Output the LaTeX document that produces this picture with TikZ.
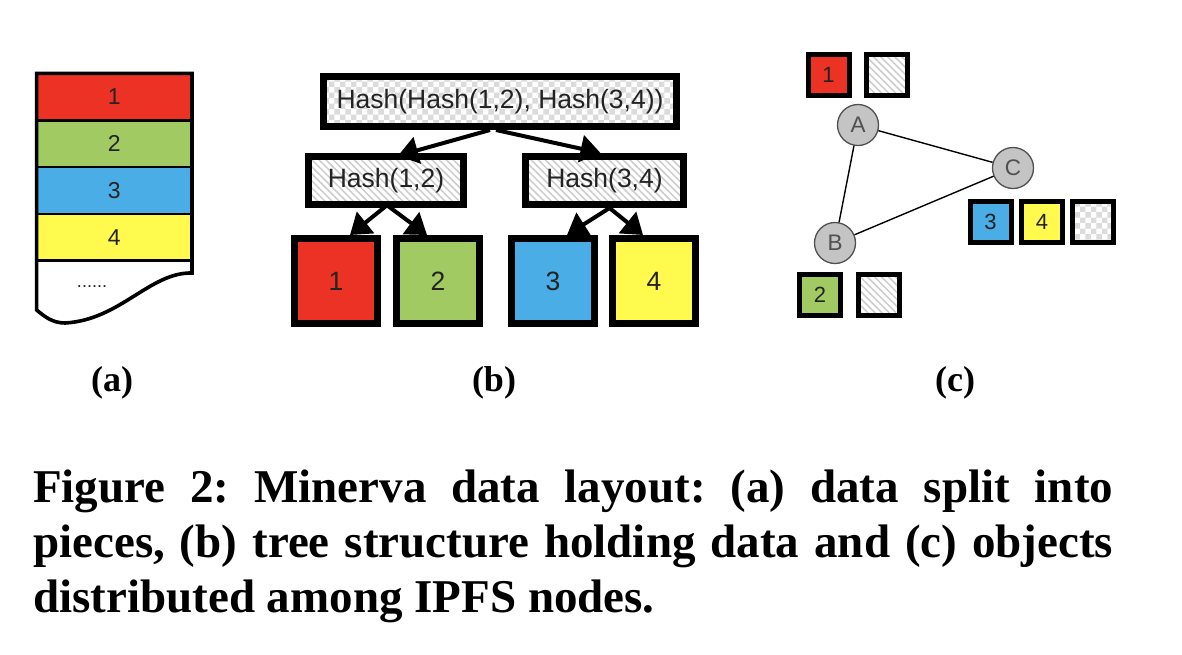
\documentclass[tikz,border=0pt]{standalone}
\usepackage{fontspec}
\setmainfont{Liberation Serif}
\newfontfamily\diagfont{Liberation Sans}
\usetikzlibrary{arrows.meta,patterns,patterns.meta}
\definecolor{cred}{RGB}{236,50,36}
\definecolor{cgreen}{RGB}{161,203,98}
\definecolor{cblue}{RGB}{74,173,230}
\definecolor{cyellow}{RGB}{255,250,77}
\definecolor{cgray}{RGB}{196,196,196}
\definecolor{cdark}{RGB}{80,80,80}
\definecolor{ctext}{RGB}{35,35,35}
\frenchspacing
\begin{document}
\begin{tikzpicture}[x=1pt,y=-1pt,
  strip/.style={draw=black,line width=2.4pt,inner sep=0pt,minimum width=155.4pt,
    text=ctext,font=\diagfont\fontsize{23}{26}\selectfont},
  bbox/.style={draw=black,line width=7pt,inner sep=0pt,text=ctext,
    font=\diagfont\fontsize{26.5}{30}\selectfont},
  sq/.style={bbox,minimum width=83pt,minimum height=85pt},
  sbox/.style={draw=black,line width=5pt,inner sep=0pt,minimum size=41pt,text=ctext,
    font=\diagfont\fontsize{22}{26}\selectfont},
  hatch/.style={pattern={Lines[angle=-45,distance=5pt,line width=1.5pt]},pattern color=gray!40},
  checker/.style={pattern=checkerboard,pattern color=gray!28},
  peer/.style={circle,draw=cdark,line width=1.3pt,fill=cgray,minimum size=41pt,inner sep=0pt,
    text=cdark,font=\diagfont\fontsize{22.5}{26}\selectfont},
  arr/.style={line width=4pt,-{Triangle[width=27pt,length=20pt]}},
  link/.style={line width=1.4pt,black},
  sublabel/.style={anchor=base,font=\bfseries\fontsize{36}{40}\selectfont},
  capline/.style={anchor=base west,inner sep=0pt,font=\bfseries\fontsize{47}{55}\selectfont}
]
\useasboundingbox (0,0) rectangle (1182,654);
\fill[white] (0,0) rectangle (1182,654);

% ---------- (a) ----------
\fill[white] (36.6,73.3) -- (192,73.3) -- (192,273)
  .. controls (150,272) and (120,320) .. (65,323)
  .. controls (52,323) and (44,316) .. (36.6,310) -- cycle;
\node[strip,fill=cred,minimum height=47.2pt] (p1) at (114.3,96.9) {1};
\node[strip,fill=cgreen,minimum height=46.7pt] (p2) at (114.3,143.85) {2};
\node[strip,fill=cblue,minimum height=46.7pt] (p3) at (114.3,190.55) {3};
\node[strip,fill=cyellow,minimum height=46.6pt] (p4) at (114.3,237.2) {4};
\node[inner sep=0pt,text=ctext,font=\diagfont\fontsize{18}{20}\selectfont] (dots) at (92,287) {......};
\draw[line width=3.6pt,line join=miter] (36.6,73.3) -- (192,73.3) -- (192,273)
  .. controls (150,272) and (120,320) .. (65,323)
  .. controls (52,323) and (44,316) .. (36.6,310) -- cycle;

% ---------- (b) ----------
\node[bbox,checker,minimum width=353pt,minimum height=50pt] (root) at (500,101.5) {Hash(Hash(1,2), Hash(3,4))};
\node[bbox,hatch,minimum width=155pt,minimum height=48pt] (h12) at (386,180.5) {Hash(1,2)};
\node[bbox,hatch,minimum width=158pt,minimum height=48pt] (h34) at (604.5,180.5) {Hash(3,4)};
\node[sq,fill=cred] (b1) at (336,281) {1};
\node[sq,fill=cgreen] (b2) at (438,281) {2};
\node[sq,fill=cblue] (b3) at (553,281) {3};
\node[sq,fill=cyellow] (b4) at (654,281) {4};
\draw[arr] ([xshift=-10pt]root.south) -- ([xshift=12pt]h12.north);
\draw[arr] ([xshift=-4pt]root.south) -- ([xshift=-4pt]h34.north);
\draw[arr] ([xshift=1pt]h12.south) -- ([xshift=14pt]b1.north);
\draw[arr] ([xshift=1pt]h12.south) -- ([xshift=-11pt]b2.north);
\draw[arr] ([xshift=5pt]h34.south) -- ([xshift=14pt]b3.north);
\draw[arr] ([xshift=5pt]h34.south) -- ([xshift=-11pt]b4.north);

% ---------- (c) ----------
\node[sbox,fill=cred] (c1) at (828.5,75) {1};
\node[sbox,hatch] (c1h) at (886.5,75) {};
\node[peer] (A) at (858,125) {A};
\node[peer] (C) at (1013,168) {C};
\node[peer] (B) at (835,243) {B};
\draw[link] (A) -- (B);
\draw[link] (A) -- (C);
\draw[link] (B) -- (C);
\node[sbox,fill=cblue] (c3) at (990.5,221.5) {3};
\node[sbox,fill=cyellow] (c4) at (1042,221.5) {4};
\node[sbox,checker] (c4k) at (1093,221.5) {};
\node[sbox,fill=cgreen] (c2) at (820,295) {2};
\node[sbox,hatch] (c2h) at (878.5,295) {};

% ---------- labels ----------
\node[sublabel] (la) at (112,391) {(a)};
\node[sublabel] (lb) at (494,391) {(b)};
\node[sublabel] (lc) at (955,391) {(c)};

% ---------- caption ----------
\node[capline] (cap1) at (33,502) {\makebox[1080pt][s]{Figure 2: Minerva data layout: (a) data split into}};
\node[capline] (cap2) at (33,557) {\makebox[1080pt][s]{pieces, (b) tree structure holding data and (c) objects}};
\node[capline] (cap3) at (33,612) {distributed among IPFS nodes.};
\end{tikzpicture}
\end{document}
